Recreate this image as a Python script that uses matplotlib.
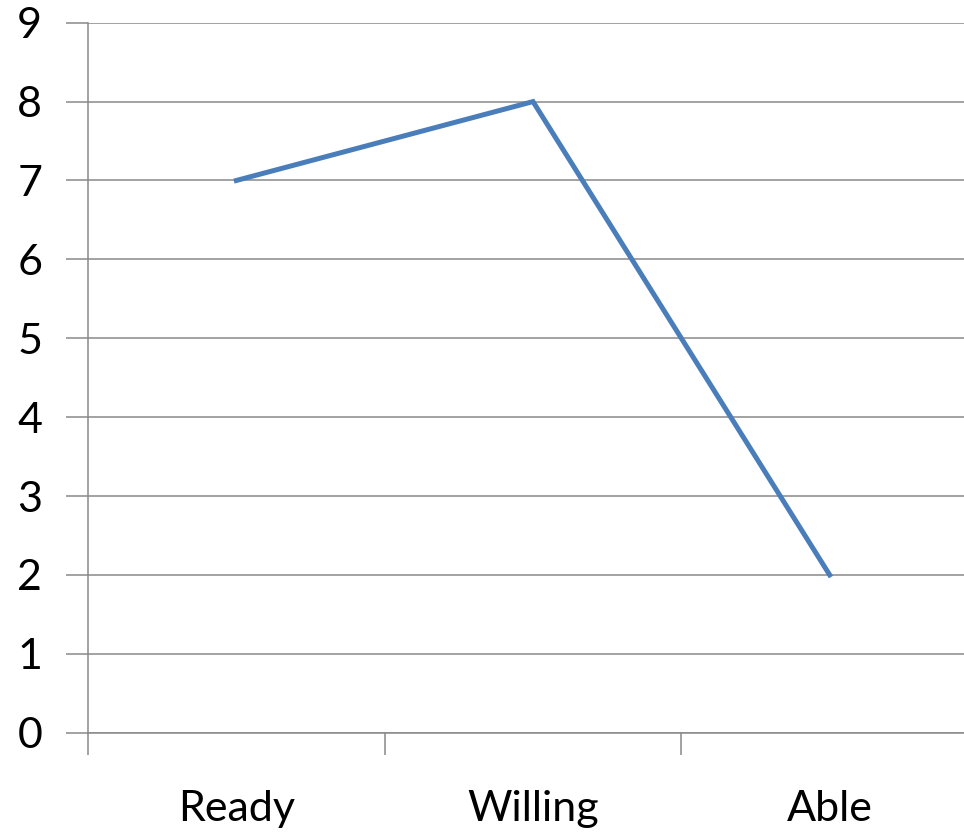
import matplotlib
matplotlib.use("Agg")
import matplotlib.pyplot as plt
from matplotlib.ticker import FixedLocator

categories = ["Ready", "Willing", "Able"]
values = [7, 8, 2]
y_ticks = list(range(0, 10))

grid_color = "#898989"
line_color = "#4A7EBB"

fig = plt.figure(figsize=(9.64, 8.33), dpi=100)
ax = fig.add_axes([88 / 964, 100.3 / 833, 890 / 964, 710 / 833])

x = list(range(len(categories)))
ax.plot(x, values, color=line_color, linewidth=3.6, solid_joinstyle="miter", zorder=3)

ax.set_xlim(-0.5, len(categories) - 0.5)
ax.set_ylim(0, 9)

# Category boundaries carry the tick marks; labels sit at category centres
ax.xaxis.set_major_locator(FixedLocator([i - 0.5 for i in range(len(categories) + 1)]))
ax.xaxis.set_minor_locator(FixedLocator(x))
ax.set_xticklabels([], minor=False)
ax.set_xticklabels(categories, minor=True)
ax.tick_params(axis="x", which="major", length=16, width=1.1, color=grid_color, direction="out")
ax.tick_params(axis="x", which="minor", length=0, pad=41, labelsize=31)

ax.set_yticks(y_ticks)
ax.tick_params(axis="y", length=16, width=1.1, color=grid_color, pad=17, labelsize=31)

for lab in ax.get_xticklabels(minor=True) + ax.get_yticklabels():
    lab.set_fontfamily("Lato")

ax.grid(axis="y", color=grid_color, linewidth=1.1, zorder=1)
for side in ("top", "right"):
    ax.spines[side].set_visible(False)
for side in ("left", "bottom"):
    ax.spines[side].set_color(grid_color)
    ax.spines[side].set_linewidth(1.1)

fig.savefig("out.png", dpi=100)
